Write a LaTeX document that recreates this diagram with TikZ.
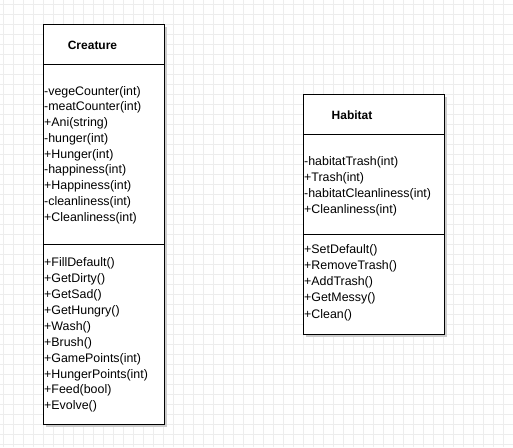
\documentclass[tikz,border=0pt]{standalone}
\usepackage{fontspec}
\setmainfont{Liberation Sans}
\begin{document}
\begin{tikzpicture}[x=1pt,y=-1pt,
	classbox/.style={shape=rectangle,draw=black,line width=1pt,fill=white,inner sep=0pt,anchor=north west},
	shadowbox/.style={fill=black!20},
	classname/.style={inner sep=0pt,font=\fontsize{12}{14}\selectfont\bfseries},
	member/.style={anchor=west,inner sep=0pt,font=\fontsize{12.4}{15}\selectfont}]
	\useasboundingbox (0,0) rectangle (513,447);
	\fill[white] (0,0) rectangle (513,447);
	% grid
	\foreach \x in {3,13,...,513} \draw[black!7,line width=1pt] (\x,0) -- (\x,447);
	\foreach \y in {4,14,...,444} \draw[black!7,line width=1pt] (0,\y) -- (513,\y);

	% Creature
	\fill[shadowbox] (46,27) rectangle (166.5,427);
	\node (creatureBox) at (43,24)[classbox,minimum width=120.5pt,minimum height=400pt] {};
	\draw[line width=1pt] ([yshift=-40pt]creatureBox.north west) -- ([yshift=-40pt]creatureBox.north east);
	\draw[line width=1pt] ([yshift=-220pt]creatureBox.north west) -- ([yshift=-220pt]creatureBox.north east);
	\node (creatureName) at (92.5,45)[classname] {Creature};
	\foreach \m [count=\i from 0] in {-vegeCounter(int),-meatCounter(int),+Ani(string),-hunger(int),+Hunger(int),-happiness(int),+Happiness(int),-cleanliness(int),+Cleanliness(int)}
		\node (creatureAttr\i) at (44,92+15.75*\i)[member] {\m};
	\foreach \m [count=\i from 0] in {+FillDefault(),+GetDirty(),+GetSad(),+GetHungry(),+Wash(),+Brush(),+GamePoints(int),+HungerPoints(int),+Feed(bool),+Evolve()}
		\node (creatureOp\i) at (44,263+15.97*\i)[member] {\m};

	% Habitat
	\fill[shadowbox] (306,97) rectangle (447,337);
	\node (habitatBox) at (303,94)[classbox,minimum width=141pt,minimum height=240pt] {};
	\draw[line width=1pt] ([yshift=-40pt]habitatBox.north west) -- ([yshift=-40pt]habitatBox.north east);
	\draw[line width=1pt] ([yshift=-140pt]habitatBox.north west) -- ([yshift=-140pt]habitatBox.north east);
	\node (habitatName) at (352,115)[classname] {Habitat};
	\foreach \m [count=\i from 0] in {-habitatTrash(int),+Trash(int),-habitatCleanliness(int),+Cleanliness(int)}
		\node (habitatAttr\i) at (304,162+16*\i)[member] {\m};
	\foreach \m [count=\i from 0] in {+SetDefault(),+RemoveTrash(),+AddTrash(),+GetMessy(),+Clean()}
		\node (habitatOp\i) at (304,250+16.25*\i)[member] {\m};
\end{tikzpicture}
\end{document}
